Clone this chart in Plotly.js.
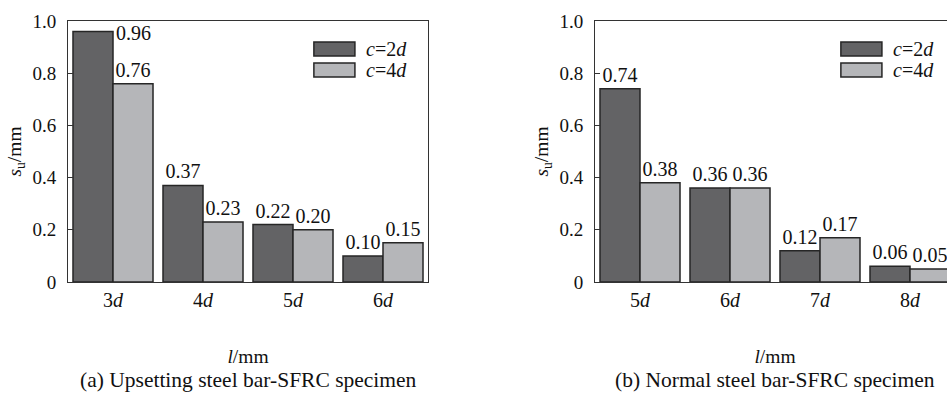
<!DOCTYPE html>
<html>
<head>
<meta charset="utf-8">
<script src="https://cdn.plot.ly/plotly-3.0.1.min.js"></script>
<style>
html,body{margin:0;padding:0;overflow:hidden;background:#fff;}
#chart{width:980px;height:397px;}
</style>
</head>
<body>
<div id="chart"></div>
<script>
// ---- data ----
const seriesNames = ['c=2d', 'c=4d'];
const seriesLabels = ['<i>c</i>=2<i>d</i>', '<i>c</i>=4<i>d</i>'];
const catsA = ['3d', '4d', '5d', '6d'];
const catLabelsA = ['3<i>d</i>', '4<i>d</i>', '5<i>d</i>', '6<i>d</i>'];
const c2dA = [0.96, 0.37, 0.22, 0.10];
const c4dA = [0.76, 0.23, 0.20, 0.15];
const catsB = ['5d', '6d', '7d', '8d'];
const catLabelsB = ['5<i>d</i>', '6<i>d</i>', '7<i>d</i>', '8<i>d</i>'];
const c2dB = [0.74, 0.36, 0.12, 0.06];
const c4dB = [0.38, 0.36, 0.17, 0.05];
const yTickVals = [0, 0.2, 0.4, 0.6, 0.8, 1.0];
const yTickText = ['0', '0.2', '0.4', '0.6', '0.8', '1.0'];
const captions = ['(a) Upsetting steel bar-SFRC specimen', '(b) Normal steel bar-SFRC specimen'];

// ---- style ----
const FONT = '"Liberation Serif"';
const colors = ['#636365', '#b5b6b9'];
const lineCol = '#262626';
const axCol = '#333333';

function barTrace(x, y, i, xa, ya, textpos) {
  return {
    type: 'bar', x: x, y: y, name: seriesNames[i], xaxis: xa, yaxis: ya,
    marker: {color: colors[i], line: {color: lineCol, width: 1.5}},
    text: y.map(v => v.toFixed(2)), textposition: textpos || 'outside',
    textfont: {family: FONT, size: 20, color: '#111'},
    constraintext: 'none', cliponaxis: false, showlegend: false, hoverinfo: 'x+y'
  };
}

const traces = [
  barTrace(catsA, c2dA, 0, 'x', 'y', c2dA.map((v, k) => k === 0 ? 'none' : 'outside')),
  barTrace(catsA, c4dA, 1, 'x', 'y'),
  barTrace(catsB, c2dB, 0, 'x2', 'y2'),
  barTrace(catsB, c4dB, 1, 'x2', 'y2')
];

function xAxis(domain, cats, labels, anchor) {
  return {
    domain: domain, anchor: anchor, type: 'category', range: [-0.5, 3.5],
    tickvals: cats, ticktext: labels, ticks: '', showline: true, mirror: true,
    linecolor: axCol, linewidth: 1, showgrid: false, zeroline: false,
    tickfont: {family: FONT, size: 20, color: '#111'},
    title: {text: '<i>l</i>/mm', font: {family: FONT, size: 19.5, color: '#111'}, standoff: 39}
  };
}
function yAxis(anchor) {
  return {
    anchor: anchor, range: [0, 1], tickvals: yTickVals, ticktext: yTickText,
    ticks: 'inside', ticklen: 5, tickcolor: axCol, showline: true, mirror: true,
    linecolor: axCol, linewidth: 1, showgrid: false, zeroline: false,
    ticklabelstandoff: 7,
    tickfont: {family: FONT, size: 19, color: '#111'},
    title: {text: '<i>s</i><sub>u</sub>/mm', font: {family: FONT, size: 19.5, color: '#111'}, standoff: 5}
  };
}

const W = 980, L = 68, R = 25;
const plotW = W - L - R;
const dA = [0, 360 / plotW];
const dB = [(595 - L) / plotW, (595 - L + 360) / plotW];

const shapes = [];
const annotations = [];
[['x', 'y'], ['x2', 'y2']].forEach((ax, p) => {
  for (let i = 0; i < 2; i++) {
    const yTop = [0.9195, 0.839][i];
    shapes.push({type: 'rect', xref: ax[0] + ' domain', yref: ax[1] + ' domain',
      x0: 0.683, x1: 0.797, y0: yTop - 0.0536, y1: yTop,
      fillcolor: colors[i], line: {color: lineCol, width: 1.5}});
    annotations.push({xref: ax[0] + ' domain', yref: ax[1] + ' domain',
      x: 0.822, y: yTop - 0.0268, xanchor: 'left', yanchor: 'middle', showarrow: false,
      text: seriesLabels[i], font: {family: FONT, size: 20, color: '#111'}});
  }
  annotations.push({xref: ax[0] + ' domain', yref: 'paper', x: 0.5, y: -0.375,
    xanchor: 'center', yanchor: 'middle', showarrow: false, text: captions[p],
    font: {family: FONT, size: 21.5, color: '#111'}});
});
// label of the tallest bar, placed to its right (as in the original)
annotations.push({xref: 'x', yref: 'y', x: catsA[0], y: c2dA[0], xanchor: 'left', yanchor: 'middle',
  xshift: 1, yshift: -2, showarrow: false, text: c2dA[0].toFixed(2), font: {family: FONT, size: 20, color: '#111'}});

const layout = {
  width: W, height: 397,
  margin: {l: L, r: R, t: 21, b: 115},
  paper_bgcolor: '#fff', plot_bgcolor: '#fff',
  barmode: 'group', bargap: 0.111, bargroupgap: 0,
  xaxis: xAxis(dA, catsA, catLabelsA, 'y'),
  yaxis: yAxis('x'),
  xaxis2: xAxis(dB, catsB, catLabelsB, 'y2'),
  yaxis2: yAxis('x2'),
  shapes: shapes, annotations: annotations,
  font: {family: FONT, color: '#111'}
};

Plotly.newPlot('chart', traces, layout, {staticPlot: true});
</script>
</body>
</html>
